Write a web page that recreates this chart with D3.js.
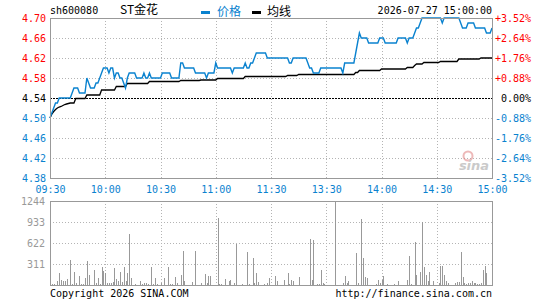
<!DOCTYPE html>
<html>
<head>
<meta charset="utf-8">
<script src="https://cdn.jsdelivr.net/npm/d3@7"></script>
<style>
  body { margin: 0; background: #fff; }
  svg { display: block; }
</style>
</head>
<body>
<div id="chart"></div>
<script>
const symbol = 'sh600080';
const stockName = 'ST金花';
const dateTime = '2026-07-27 15:00:00';
const legendLabels = ['价格', '均线'];
const prevClose = 4.54;

const priceTicks = [4.70, 4.66, 4.62, 4.58, 4.54, 4.50, 4.46, 4.42, 4.38];
const pctLabels = ['+3.52%', '+2.64%', '+1.76%', '+0.88%', '0.00%', '-0.88%', '-1.76%', '-2.64%', '-3.52%'];
const timeTicks = [0, 30, 60, 90, 120, 150, 180, 210, 240];
const timeLabels = ['09:30', '10:00', '10:30', '11:00', '11:30', '13:30', '14:00', '14:30', '15:00'];
const volTicks = [1244, 933, 622, 311];

// one value per minute, 09:30-11:30 then 13:00-15:00
const prices = [
  4.50, 4.51, 4.52, 4.53, 4.53, 4.54, 4.54, 4.54, 4.54, 4.54,
  4.54, 4.54, 4.55, 4.56, 4.56, 4.56, 4.55, 4.55, 4.55, 4.55,
  4.58, 4.57, 4.56, 4.56, 4.56, 4.57, 4.57, 4.58, 4.59, 4.60,
  4.60, 4.60, 4.59, 4.60, 4.60, 4.58, 4.59, 4.59, 4.58, 4.58,
  4.57, 4.56, 4.58, 4.59, 4.59, 4.59, 4.59, 4.58, 4.58, 4.58,
  4.58, 4.59, 4.58, 4.58, 4.59, 4.58, 4.58, 4.58, 4.58, 4.58,
  4.58, 4.59, 4.59, 4.59, 4.59, 4.59, 4.58, 4.58, 4.58, 4.58,
  4.58, 4.61, 4.61, 4.60, 4.60, 4.60, 4.60, 4.60, 4.60, 4.59,
  4.59, 4.59, 4.59, 4.59, 4.59, 4.58, 4.59, 4.59, 4.59, 4.59,
  4.61, 4.60, 4.60, 4.60, 4.60, 4.60, 4.60, 4.60, 4.60, 4.59,
  4.60, 4.60, 4.60, 4.60, 4.60, 4.60, 4.61, 4.60, 4.60, 4.61,
  4.61, 4.62, 4.63, 4.63, 4.63, 4.63, 4.63, 4.63, 4.62, 4.62,
  4.62, 4.62, 4.62, 4.62, 4.62, 4.62, 4.62, 4.62, 4.62, 4.62,
  4.61, 4.61, 4.62, 4.62, 4.62, 4.62, 4.62, 4.62, 4.62, 4.62,
  4.61, 4.60, 4.60, 4.59, 4.59, 4.59, 4.59, 4.60, 4.60, 4.60,
  4.60, 4.60, 4.60, 4.60, 4.60, 4.60, 4.60, 4.60, 4.60, 4.59,
  4.61, 4.61, 4.61, 4.61, 4.61, 4.61, 4.63, 4.65, 4.67, 4.66,
  4.66, 4.66, 4.66, 4.65, 4.65, 4.65, 4.65, 4.65, 4.65, 4.66,
  4.66, 4.66, 4.65, 4.65, 4.65, 4.65, 4.65, 4.65, 4.65, 4.66,
  4.66, 4.66, 4.66, 4.66, 4.65, 4.66, 4.66, 4.66, 4.67, 4.68,
  4.68, 4.69, 4.70, 4.70, 4.70, 4.70, 4.70, 4.70, 4.70, 4.70,
  4.70, 4.70, 4.70, 4.69, 4.70, 4.70, 4.70, 4.70, 4.70, 4.70,
  4.70, 4.70, 4.70, 4.69, 4.68, 4.68, 4.68, 4.69, 4.69, 4.69,
  4.69, 4.68, 4.68, 4.68, 4.68, 4.68, 4.68, 4.67, 4.67, 4.67,
  4.68
];

const avgPrices = [
  4.500, 4.508, 4.513, 4.517, 4.520, 4.522, 4.523, 4.525, 4.527, 4.528,
  4.529, 4.530, 4.530, 4.530, 4.539, 4.539, 4.539, 4.539, 4.539, 4.539,
  4.546, 4.546, 4.546, 4.546, 4.546, 4.546, 4.546, 4.546, 4.556, 4.556,
  4.556, 4.556, 4.556, 4.556, 4.556, 4.556, 4.563, 4.563, 4.563, 4.563,
  4.563, 4.563, 4.569, 4.569, 4.569, 4.569, 4.569, 4.569, 4.569, 4.569,
  4.569, 4.569, 4.569, 4.569, 4.573, 4.573, 4.573, 4.573, 4.573, 4.573,
  4.573, 4.573, 4.573, 4.573, 4.573, 4.573, 4.573, 4.573, 4.573, 4.573,
  4.573, 4.575, 4.575, 4.575, 4.575, 4.575, 4.575, 4.575, 4.575, 4.575,
  4.575, 4.575, 4.576, 4.576, 4.576, 4.576, 4.576, 4.576, 4.576, 4.576,
  4.576, 4.579, 4.579, 4.579, 4.579, 4.579, 4.579, 4.579, 4.579, 4.579,
  4.579, 4.579, 4.579, 4.579, 4.579, 4.579, 4.583, 4.583, 4.583, 4.583,
  4.583, 4.583, 4.583, 4.583, 4.583, 4.583, 4.583, 4.583, 4.583, 4.583,
  4.583, 4.583, 4.583, 4.583, 4.583, 4.583, 4.583, 4.583, 4.583, 4.585,
  4.585, 4.585, 4.585, 4.585, 4.585, 4.587, 4.587, 4.587, 4.587, 4.587,
  4.587, 4.587, 4.587, 4.587, 4.587, 4.587, 4.587, 4.587, 4.587, 4.587,
  4.587, 4.587, 4.587, 4.587, 4.587, 4.587, 4.587, 4.587, 4.587, 4.587,
  4.587, 4.587, 4.587, 4.587, 4.587, 4.587, 4.591, 4.591, 4.595, 4.595,
  4.595, 4.595, 4.595, 4.595, 4.595, 4.595, 4.595, 4.595, 4.595, 4.595,
  4.598, 4.598, 4.598, 4.598, 4.598, 4.598, 4.598, 4.598, 4.598, 4.598,
  4.598, 4.598, 4.598, 4.598, 4.601, 4.601, 4.601, 4.601, 4.605, 4.608,
  4.608, 4.608, 4.608, 4.611, 4.611, 4.611, 4.611, 4.611, 4.611, 4.611,
  4.611, 4.611, 4.613, 4.613, 4.613, 4.613, 4.613, 4.613, 4.613, 4.613,
  4.613, 4.613, 4.618, 4.618, 4.618, 4.618, 4.618, 4.618, 4.618, 4.618,
  4.618, 4.618, 4.618, 4.618, 4.620, 4.620, 4.620, 4.620, 4.620, 4.620,
  4.620
];

const volumes = [
  0, 15, 15, 0, 64, 178, 79, 54, 64, 89,
  0, 375, 15, 193, 30, 0, 133, 15, 15, 104,
  355, 148, 0, 0, 222, 30, 104, 15, 267, 212,
  178, 30, 30, 30, 44, 252, 89, 59, 193, 44,
  267, 59, 178, 755, 104, 0, 15, 0, 0, 59,
  15, 30, 30, 15, 0, 267, 15, 104, 15, 0,
  30, 0, 104, 0, 267, 15, 15, 0, 118, 30,
  0, 148, 504, 59, 0, 0, 0, 44, 0, 504,
  0, 0, 30, 0, 163, 30, 133, 133, 0, 0,
  0, 992, 15, 15, 0, 89, 0, 59, 74, 0,
  30, 607, 0, 0, 15, 0, 0, 489, 15, 0,
  400, 30, 178, 44, 0, 0, 15, 0, 30, 104,
  0, 0, 133, 59, 0, 0, 0, 74, 0, 178,
  15, 74, 59, 0, 0, 118, 0, 0, 0, 0,
  0, 681, 74, 666, 0, 15, 15, 222, 30, 15,
  0, 0, 0, 0, 0, 1244, 0, 0, 0, 30,
  133, 30, 59, 0, 0, 0, 474, 30, 0, 977,
  400, 118, 104, 0, 0, 0, 0, 15, 74, 30,
  74, 133, 0, 15, 0, 0, 0, 15, 0, 59,
  0, 0, 0, 0, 74, 430, 15, 0, 637, 148,
  0, 193, 933, 267, 148, 59, 193, 0, 59, 0,
  0, 30, 281, 281, 148, 59, 30, 0, 0, 0,
  30, 44, 44, 489, 118, 30, 15, 30, 30, 59,
  30, 30, 15, 15, 30, 222, 281, 178, 0, 0,
  0
];

const width = 545;
const height = 300;
const font = '"DejaVu Sans Mono", "Liberation Mono", monospace';
const cjkFont = '"Noto Sans CJK SC", "DejaVu Sans Mono", sans-serif';
const red = '#ff0000';
const blue = '#0a82cf';
const gray = '#999999';
const gridColor = '#b4b4b4';

const plot = {left: 50, right: 492, top: 18, bottom: 178};
const volPlot = {left: 50, right: 492, top: 201, bottom: 285};

const svg = d3.select('#chart')
  .append('svg')
  .attr('width', width)
  .attr('height', height)
  .style('font-family', font)
  .style('font-size', '10px');

const x = d3.scaleLinear()
  .domain([0, 240])
  .range([plot.left, plot.right]);

const y = d3.scaleLinear()
  .domain([4.38, 4.70])
  .range([plot.bottom, plot.top]);

const yPct = d3.scaleOrdinal()
  .domain(pctLabels)
  .range(priceTicks.map((p) => y(p)));

const yVol = d3.scaleLinear()
  .domain([0, 1244])
  .range([volPlot.bottom, volPlot.top]);

const crisp = (v) => Math.round(v) + 0.5;

const drawGrid = ({g, box, yValues, yScale}) => {
  g.append('g')
    .selectAll('line')
    .data(timeTicks.slice(1, -1))
    .join('line')
    .attr('x1', (d) => crisp(x(d)))
    .attr('x2', (d) => crisp(x(d)))
    .attr('y1', box.top)
    .attr('y2', box.bottom)
    .attr('stroke', gridColor)
    .attr('stroke-dasharray', '1,2');

  g.append('g')
    .selectAll('line')
    .data(yValues)
    .join('line')
    .attr('x1', box.left)
    .attr('x2', box.right)
    .attr('y1', (d) => crisp(yScale(d)))
    .attr('y2', (d) => crisp(yScale(d)))
    .attr('stroke', gridColor)
    .attr('stroke-dasharray', '1,2');
};

const drawFrame = ({g, box}) =>
  g.append('rect')
    .attr('x', box.left + 0.5)
    .attr('y', box.top + 0.5)
    .attr('width', box.right - box.left)
    .attr('height', box.bottom - box.top)
    .attr('fill', 'none')
    .attr('stroke', gray)
    .attr('stroke-width', 1);

// price panel
const main = svg.append('g');
drawGrid({
  g: main,
  box: plot,
  yValues: priceTicks.filter((p) => p !== prevClose && p !== 4.70 && p !== 4.38),
  yScale: y,
});

main.append('line')
  .attr('x1', plot.left)
  .attr('x2', plot.right)
  .attr('y1', crisp(y(prevClose)))
  .attr('y2', crisp(y(prevClose)))
  .attr('stroke', '#000')
  .attr('stroke-dasharray', '2,1');

// volume panel
const vol = svg.append('g');
drawGrid({g: vol, box: volPlot, yValues: volTicks.slice(1), yScale: yVol});

vol.append('g')
  .selectAll('rect')
  .data(volumes)
  .join('rect')
  .attr('x', (d, i) => Math.round(x(i)))
  .attr('y', (d) => Math.round(yVol(d)))
  .attr('width', 1)
  .attr('height', (d) => Math.round(yVol(0)) - Math.round(yVol(d)))
  .attr('fill', gray);

// sina watermark
const mark = svg.append('g').attr('opacity', 0.55);
mark.append('circle')
  .attr('cx', 468)
  .attr('cy', 156)
  .attr('r', 4.5)
  .attr('fill', 'none')
  .attr('stroke', '#e08080')
  .attr('stroke-width', 2);
mark.append('text')
  .attr('x', 474)
  .attr('y', 170)
  .attr('text-anchor', 'middle')
  .attr('font-family', '"DejaVu Sans", sans-serif')
  .attr('font-size', 13)
  .attr('font-weight', 'bold')
  .attr('font-style', 'italic')
  .attr('fill', '#a0a0a0')
  .text('sina');

// lines
const line = (values) => d3.line()
  .x((d, i) => x(i))
  .y((d) => y(d))(values);

main.append('path')
  .attr('d', line(avgPrices))
  .attr('fill', 'none')
  .attr('stroke', '#000')
  .attr('stroke-width', 1.3);

main.append('path')
  .attr('d', line(prices))
  .attr('fill', 'none')
  .attr('stroke', blue)
  .attr('stroke-width', 1.4);

drawFrame({g: main, box: plot});
drawFrame({g: vol, box: volPlot});

// axes
const leftAxis = svg.append('g')
  .attr('transform', `translate(${plot.left},0)`)
  .call(d3.axisLeft(y).tickValues(priceTicks).tickSize(0).tickPadding(4).tickFormat(d3.format('.2f')));

leftAxis.selectAll('text')
  .attr('fill', (d) => (d > prevClose + 0.001 ? red : d < prevClose - 0.001 ? blue : '#000'));

const rightAxis = svg.append('g')
  .attr('transform', `translate(${plot.right + 39},0)`)
  .call(d3.axisLeft(yPct).tickSize(0).tickPadding(0));

rightAxis.selectAll('text')
  .attr('fill', (d, i) => (i < 4 ? red : i > 4 ? blue : '#000'));

const timeAxis = svg.append('g')
  .attr('transform', `translate(0,${plot.bottom + 7.5})`)
  .call(d3.axisBottom(x).tickValues(timeTicks).tickSize(0).tickPadding(0)
    .tickFormat((d, i) => timeLabels[i]));

timeAxis.selectAll('text').attr('fill', blue);

const volAxis = svg.append('g')
  .attr('transform', `translate(${plot.left - 5},0)`)
  .call(d3.axisLeft(yVol).tickValues(volTicks).tickSize(0).tickPadding(0).tickFormat(d3.format('d')));

volAxis.selectAll('text').attr('fill', gray);

svg.selectAll('.domain').remove();
svg.selectAll('.tick text')
  .attr('font-family', font)
  .attr('font-size', 10);

// header
svg.append('text')
  .attr('x', plot.left)
  .attr('y', 14)
  .attr('fill', '#000')
  .text(symbol);

svg.append('text')
  .attr('x', 120)
  .attr('y', 14)
  .attr('font-family', cjkFont)
  .attr('font-size', 12)
  .attr('fill', '#000')
  .text(stockName);

const legend = svg.append('g');
[blue, '#000'].forEach((c, i) => {
  legend.append('rect')
    .attr('x', 201 + i * 51)
    .attr('y', 11)
    .attr('width', 9)
    .attr('height', 3)
    .attr('fill', c);
  legend.append('text')
    .attr('x', 217 + i * 50)
    .attr('y', 16)
    .attr('font-family', cjkFont)
    .attr('font-size', 12)
    .attr('fill', c)
    .text(legendLabels[i]);
});

svg.append('text')
  .attr('x', plot.right)
  .attr('y', 14)
  .attr('text-anchor', 'end')
  .attr('fill', '#000')
  .text(dateTime);

// footer
svg.append('text')
  .attr('x', plot.left)
  .attr('y', 297)
  .attr('fill', '#000')
  .text('Copyright 2026 SINA.COM');

svg.append('text')
  .attr('x', plot.right)
  .attr('y', 297)
  .attr('text-anchor', 'end')
  .attr('fill', '#000')
  .text('http://finance.sina.com.cn');
</script>
</body>
</html>
